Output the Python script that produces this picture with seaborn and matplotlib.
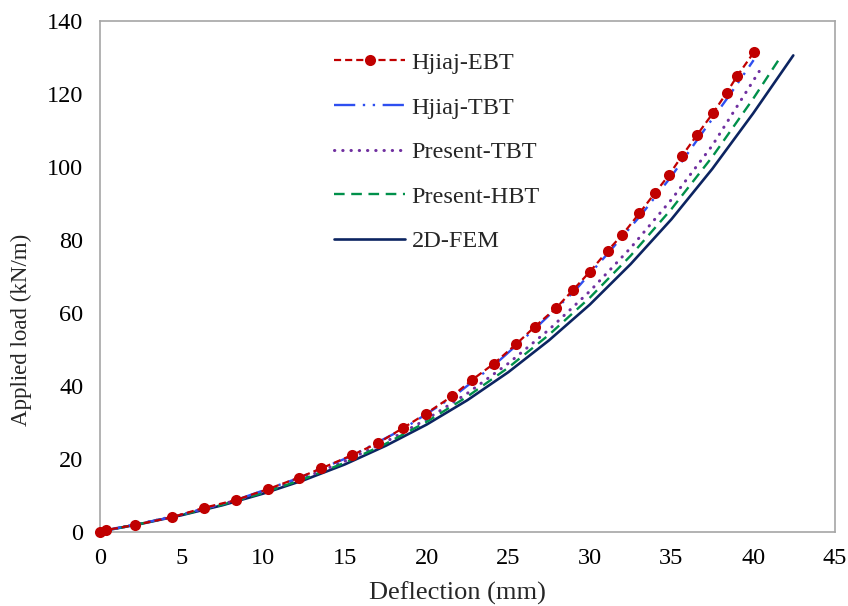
import matplotlib
matplotlib.use("Agg")
import matplotlib.pyplot as plt
import numpy as np
import pandas as pd
import seaborn as sns

# ---- data ----
ebt_x = [0, 0.37, 2.14, 4.39, 6.37, 8.3, 10.27, 12.2, 13.55, 15.42, 17.05, 18.57,
         19.96, 21.57, 22.8, 24.12, 25.5, 26.62, 27.92, 28.95, 30.0, 31.1, 32.0,
         33.03, 33.99, 34.86, 35.62, 36.58, 37.56, 38.37, 39.03, 40.07]
ebt_y = [0, 0.4, 1.8, 3.9, 6.5, 8.6, 11.6, 14.8, 17.3, 20.9, 24.3, 28.4,
         32.3, 37.1, 41.6, 46.0, 51.4, 56.1, 61.2, 66.1, 71.2, 77.0, 81.4,
         87.2, 92.8, 97.8, 102.8, 108.8, 114.8, 120.2, 124.9, 131.5]

htbt_x = [0, 4.45, 8.25, 12.07, 15.3, 18.53, 21.65, 24.24, 26.74, 29.08, 31.16,
          33.18, 35.02, 36.76, 38.54, 40.03]
htbt_y = [0, 4.0, 8.5, 14.5, 20.5, 28.0, 37.0, 46.0, 56.0, 66.0, 76.5,
          87.0, 97.5, 108.5, 119.5, 129.2]

ptbt_x = [0, 2.5, 5, 7.5, 10, 12.5, 15, 17.5, 20, 22.5, 25, 27.5, 30, 32.5,
          35, 37.5, 40.37]
ptbt_y = [0, 2.17, 4.63, 7.47, 10.8, 14.69, 19.25, 24.58, 30.76, 37.89, 46.05,
          55.34, 65.87, 77.74, 91.0, 105.8, 126.1]

phbt_x = [0, 2.5, 5, 7.5, 10, 12.5, 15, 17.5, 20, 22.5, 25, 27.5, 30, 32.5,
          35, 37.5, 40, 41.7]
phbt_y = [0, 2.14, 4.56, 7.35, 10.6, 14.42, 18.87, 24.06, 30.06, 36.99, 44.9,
          53.93, 64.1, 75.6, 88.4, 102.7, 118.6, 130.2]

fem_x = [0, 2.5, 5, 7.5, 10, 12.5, 15, 17.5, 20, 22.5, 25, 27.5, 30, 32.5,
         35, 37.5, 40, 42.46]
fem_y = [0, 2.1, 4.48, 7.2, 10.4, 14.1, 18.4, 23.5, 29.3, 36.0, 43.65, 52.4,
         62.2, 73.3, 85.6, 99.4, 114.6, 130.5]

x_ticks = [0, 5, 10, 15, 20, 25, 30, 35, 40, 45]
y_ticks = [0, 20, 40, 60, 80, 100, 120, 140]

# ---- style ----
sns.set_style("white")
plt.rcParams['font.family'] = ['Liberation Serif', 'DejaVu Serif']

fig = plt.figure(figsize=(8.48, 6.06), dpi=100)
ax = fig.add_axes([0.1179, 0.1229, 0.8665, 0.8429])

sns.lineplot(x=ebt_x, y=ebt_y, ax=ax, color="#C00000", lw=1.6,
             linestyle=(0, (3.2, 1.8)), marker="o", markersize=8,
             markeredgewidth=0, label="Hjiaj-EBT", errorbar=None, clip_on=False,
             zorder=5)
sns.lineplot(x=htbt_x, y=htbt_y, ax=ax, color="#2E4FF0", lw=1.7,
             linestyle=(0, (9, 3.2, 1, 3.2, 1, 3.2)), label="Hjiaj-TBT",
             errorbar=None, clip_on=False, zorder=4)
sns.lineplot(x=ptbt_x, y=ptbt_y, ax=ax, color="#7030A0", lw=2.2,
             linestyle=(0, (0.1, 2.6)), dash_capstyle="round",
             label="Present-TBT", errorbar=None, clip_on=False, zorder=3)
sns.lineplot(x=phbt_x, y=phbt_y, ax=ax, color="#00904A", lw=1.7,
             linestyle=(0, (4.5, 2.8)), label="Present-HBT", errorbar=None,
             clip_on=False, zorder=3)
sns.lineplot(x=fem_x, y=fem_y, ax=ax, color="#0C2461", lw=1.9,
             linestyle="-", label="2D-FEM", errorbar=None, clip_on=False,
             zorder=2)

ax.set_xlim(0, 45)
ax.set_ylim(0, 140)
ax.set_xticks(x_ticks)
ax.set_yticks(y_ticks)
ax.tick_params(axis="both", which="both", direction="out", length=5,
               width=1.2, color="#A6A6A6", labelsize=17.5, labelcolor="black")
ax.tick_params(axis="x", pad=7)
ax.tick_params(axis="y", pad=7)
ax.tick_params(top=False, right=False)
for s in ax.spines.values():
    s.set_visible(True)
    s.set_color("#A6A6A6")
    s.set_linewidth(1.2)
    s.set_zorder(1)

ax.set_xlabel("Deflection (mm)", fontsize=19)
ax.set_ylabel("Applied load (kN/m)", fontsize=16.5)
ax.xaxis.set_label_coords(0.487, -0.098)
ax.yaxis.set_label_coords(-0.092, 0.395)

leg = ax.legend(loc="upper left", bbox_to_anchor=(0.319, 0.939), frameon=False,
                fontsize=17.5, handlelength=2.9, handletextpad=0.28,
                labelspacing=0.93, borderpad=0, borderaxespad=0)

fig.savefig("out.png", dpi=100)
